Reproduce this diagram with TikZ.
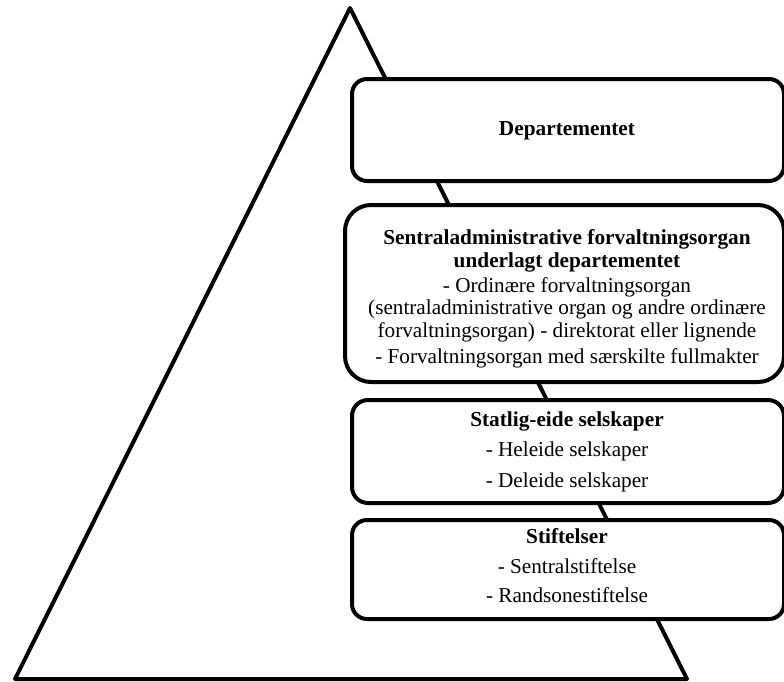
\documentclass[tikz,border=0pt]{standalone}
\usepackage{fontspec}
\setmainfont{Liberation Serif}
\begin{document}
\begin{tikzpicture}[x=1pt,y=-1pt,
  box/.style={draw=black, line width=4pt, fill=white, anchor=north west, inner sep=0pt},
  hd/.style={font=\fontsize{21.3}{22}\selectfont\bfseries, anchor=base, inner sep=0pt},
  tx/.style={font=\fontsize{21.2}{22}\selectfont, anchor=base, inner sep=0pt}]
\useasboundingbox (0,0) rectangle (784,681);
% pyramid
\coordinate (apex) at (350,8);
\coordinate (bl) at (15,679);
\coordinate (br) at (687,679);
\draw[line width=4pt, line join=round] (bl) -- (apex) -- (br) -- cycle;
% boxes
\node[box, rounded corners=15pt, minimum width=432pt, minimum height=102pt] (b1) at (350,77) {};
\node[box, rounded corners=26pt, minimum width=439pt, minimum height=177pt] (b2) at (343,203) {};
\node[box, rounded corners=16pt, minimum width=432pt, minimum height=103pt] (b3) at (350,398) {};
\node[box, rounded corners=15pt, minimum width=432pt, minimum height=99pt] (b4) at (350,518) {};
% texts
\node[hd] (t1) at (567,135) {Departementet};
\node[hd] (t2a) at (567,244) {Sentraladministrative forvaltningsorgan};
\node[hd] (t2b) at (567,267) {underlagt departementet};
\node[tx] (t2c) at (567,292) {- Ordinære forvaltningsorgan};
\node[tx] (t2d) at (567,314.5) {(sentraladministrative organ og andre ordinære};
\node[tx] (t2e) at (567,337) {forvaltningsorgan) - direktorat eller lignende};
\node[tx] (t2f) at (567,363) {- Forvaltningsorgan med særskilte fullmakter};
\node[hd] (t3a) at (567,426) {Statlig-eide selskaper};
\node[tx] (t3b) at (567,456) {- Heleide selskaper};
\node[tx] (t3c) at (567,487) {- Deleide selskaper};
\node[hd] (t4a) at (567,543) {Stiftelser};
\node[tx] (t4b) at (567,573) {- Sentralstiftelse};
\node[tx] (t4c) at (567,602) {- Randsonestiftelse};
\end{tikzpicture}
\end{document}
